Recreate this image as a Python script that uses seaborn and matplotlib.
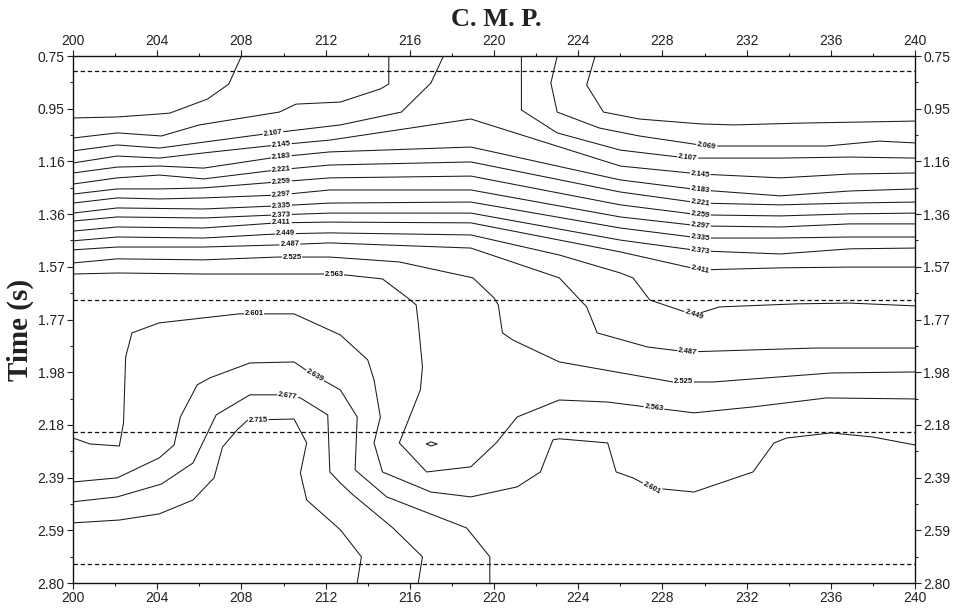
import numpy as np
import pandas as pd
import seaborn as sns
import matplotlib
from matplotlib import pyplot as plt

# do not use X11
matplotlib.use('Agg')

# velocity contours traced off the section: C.M.P. position and time (s)
V2031A_CMP = [200.0, 202.1, 204.0, 204.6, 206.4, 207.4, 208.0]
V2031A_T = [0.991, 0.987, 0.976, 0.972, 0.917, 0.859, 0.750]
V2031B_CMP = [224.8, 224.4, 225.2, 226.9, 229.8, 231.4, 234.5, 240.0]
V2031B_T = [0.750, 0.863, 0.968, 0.995, 1.014, 1.018, 1.011, 1.003]

V2069A_CMP = [200.0, 202.1, 204.2, 206.0, 209.8, 210.6, 212.7, 214.6, 215.0, 215.0]
V2069A_T = [1.069, 1.049, 1.061, 1.018, 0.968, 0.937, 0.929, 0.878, 0.859, 0.750]
V2069B_CMP = [223.0, 222.7, 223.0, 225.0, 226.9, 228.8, 230.1, 233.6, 235.8, 238.3, 240.0]
V2069B_T = [0.750, 0.855, 0.968, 1.030, 1.061, 1.084, 1.100, 1.100, 1.100, 1.081, 1.088]

V2107A_CMP = [200.0, 202.1, 204.1, 209.5, 212.7, 215.6, 217.0, 217.6]
V2107A_T = [1.119, 1.096, 1.108, 1.049, 1.018, 0.968, 0.855, 0.750]
V2107B_CMP = [221.3, 221.3, 223.0, 226.0, 229.2, 233.6, 236.9, 240.0]
V2107B_T = [0.750, 0.960, 1.049, 1.116, 1.147, 1.147, 1.143, 1.147]

ROW_CMP = [200.0, 202.1, 204.1, 206.2, 209.7, 212.2, 218.9, 226.0, 229.8, 233.6, 236.9, 240.0]
V2145_T = [1.166, 1.139, 1.147, 1.127, 1.096, 1.077, 0.995, 1.178, 1.209, 1.224, 1.209, 1.205]
V2183_T = [1.205, 1.182, 1.178, 1.186, 1.143, 1.123, 1.104, 1.232, 1.271, 1.294, 1.275, 1.267]
V2221_T = [1.248, 1.224, 1.213, 1.228, 1.193, 1.174, 1.162, 1.279, 1.322, 1.329, 1.322, 1.318]
V2259_T = [1.287, 1.267, 1.267, 1.263, 1.240, 1.224, 1.217, 1.329, 1.368, 1.372, 1.364, 1.361]
V2297_T = [1.322, 1.302, 1.306, 1.302, 1.291, 1.271, 1.271, 1.376, 1.411, 1.415, 1.403, 1.403]
V2335_T = [1.361, 1.341, 1.343, 1.345, 1.333, 1.322, 1.318, 1.419, 1.458, 1.458, 1.454, 1.454]
V2373_T = [1.392, 1.376, 1.378, 1.380, 1.368, 1.361, 1.361, 1.466, 1.508, 1.520, 1.500, 1.497]
V2411_T = [1.431, 1.415, 1.417, 1.419, 1.399, 1.396, 1.399, 1.512, 1.582, 1.574, 1.571, 1.571]

V2449_CMP = [200.0, 202.1, 206.2, 209.7, 212.2, 218.9, 223.1, 226.0, 226.6, 227.4, 229.5,
             230.7, 234.4, 236.9, 240.0]
V2449_T = [1.469, 1.454, 1.458, 1.442, 1.438, 1.446, 1.524, 1.594, 1.613, 1.699, 1.757,
           1.726, 1.714, 1.711, 1.722]

V2487_CMP = [200.0, 202.1, 206.2, 209.7, 212.2, 218.9, 223.1, 224.4, 224.9, 227.3, 229.2,
             235.2, 240.0]
V2487_T = [1.504, 1.493, 1.493, 1.485, 1.477, 1.497, 1.613, 1.726, 1.827, 1.882, 1.901,
           1.886, 1.886]

V2525_CMP = [200.0, 202.1, 206.2, 209.7, 212.2, 215.5, 219.0, 220.0, 220.2, 220.4, 220.9,
             223.1, 228.5, 230.4, 236.0, 240.0]
V2525_T = [1.555, 1.539, 1.543, 1.532, 1.532, 1.551, 1.613, 1.691, 1.718, 1.827, 1.855,
           1.940, 2.018, 2.018, 1.983, 1.979]

V2563_CMP = [200.0, 202.1, 206.2, 212.5, 214.7, 215.9, 216.3, 216.4, 216.6, 216.5, 215.5,
             216.8, 218.9, 220.1, 221.1, 223.1, 225.4, 227.6, 229.5, 232.3, 235.8, 240.0]
V2563_T = [1.598, 1.594, 1.598, 1.598, 1.617, 1.691, 1.718, 1.788, 1.959, 2.049, 2.255,
           2.368, 2.348, 2.255, 2.154, 2.088, 2.096, 2.119, 2.138, 2.115, 2.080, 2.084]

V2601_CMP = [200.0, 200.8, 202.2, 202.4, 202.5, 202.8, 204.1, 207.9, 210.5, 212.7, 214.0,
             214.3, 214.6, 214.3, 214.7, 217.0, 218.9, 221.1, 222.2, 222.8, 223.1, 225.4,
             225.8, 226.6, 227.5, 229.5, 232.3, 233.3, 233.9, 236.0, 238.0, 240.0]
V2601_T = [2.236, 2.259, 2.267, 2.177, 1.921, 1.827, 1.788, 1.753, 1.753, 1.835, 1.932,
           2.010, 2.154, 2.255, 2.368, 2.446, 2.465, 2.426, 2.368, 2.243, 2.239, 2.255,
           2.368, 2.391, 2.430, 2.446, 2.368, 2.255, 2.236, 2.216, 2.232, 2.263]

V2639_CMP = [200.0, 202.1, 204.1, 204.8, 205.1, 205.9, 206.5, 208.4, 210.5, 211.2, 212.7,
             213.5, 213.4, 214.9, 218.7, 219.8, 219.8]
V2639_T = [2.407, 2.391, 2.313, 2.263, 2.154, 2.029, 2.002, 1.944, 1.940, 1.979, 2.049,
           2.154, 2.360, 2.465, 2.586, 2.698, 2.800]

V2677_CMP = [200.0, 202.1, 204.2, 205.7, 206.8, 208.4, 209.8, 210.8, 212.1, 212.2, 212.7,
             213.3, 215.2, 216.6, 216.4]
V2677_T = [2.484, 2.465, 2.415, 2.333, 2.146, 2.068, 2.068, 2.080, 2.146, 2.368, 2.411,
           2.457, 2.586, 2.698, 2.800]

V2715_CMP = [200.0, 202.2, 204.1, 205.7, 206.7, 207.1, 207.8, 208.3, 210.5, 211.1, 210.8,
             211.1, 212.7, 213.7, 213.5]
V2715_T = [2.566, 2.555, 2.531, 2.477, 2.391, 2.271, 2.204, 2.166, 2.162, 2.255, 2.372,
           2.477, 2.593, 2.698, 2.800]

# tiny closed contour near C.M.P. 217
LOOP_CMP = [216.8, 217.0, 217.3, 217.0, 216.8]
LOOP_T = [2.259, 2.251, 2.259, 2.267, 2.259]

# dashed horizons
HORIZONS = [0.808, 1.699, 2.212, 2.727]

X_TICKS = [200, 204, 208, 212, 216, 220, 224, 228, 232, 236, 240]
T_TICKS = [0.75, 0.955, 1.16, 1.365, 1.57, 1.775, 1.98, 2.185, 2.39, 2.595, 2.80]
T_TICK_LABELS = ['0.75', '0.95', '1.16', '1.36', '1.57', '1.77', '1.98', '2.18',
                 '2.39', '2.59', '2.80']

LINES = {
    '2031a': V2031A_CMP and (V2031A_CMP, V2031A_T),
    '2031b': (V2031B_CMP, V2031B_T),
    '2069a': (V2069A_CMP, V2069A_T),
    '2069b': (V2069B_CMP, V2069B_T),
    '2107a': (V2107A_CMP, V2107A_T),
    '2107b': (V2107B_CMP, V2107B_T),
    '2145': (ROW_CMP, V2145_T),
    '2183': (ROW_CMP, V2183_T),
    '2221': (ROW_CMP, V2221_T),
    '2259': (ROW_CMP, V2259_T),
    '2297': (ROW_CMP, V2297_T),
    '2335': (ROW_CMP, V2335_T),
    '2373': (ROW_CMP, V2373_T),
    '2411': (ROW_CMP, V2411_T),
    '2449': (V2449_CMP, V2449_T),
    '2487': (V2487_CMP, V2487_T),
    '2525': (V2525_CMP, V2525_T),
    '2563': (V2563_CMP, V2563_T),
    '2601': (V2601_CMP, V2601_T),
    '2639': (V2639_CMP, V2639_T),
    '2677': (V2677_CMP, V2677_T),
    '2715': (V2715_CMP, V2715_T),
    'loop': (LOOP_CMP, LOOP_T),
}

# where the contour labels sit (line key, label, C.M.P.)
LABELS = [
    ('2107a', '2.107', 209.5), ('2145', '2.145', 209.9), ('2183', '2.183', 209.9),
    ('2221', '2.221', 209.9), ('2259', '2.259', 209.9), ('2297', '2.297', 209.9),
    ('2335', '2.335', 209.9), ('2373', '2.373', 209.9), ('2411', '2.411', 209.9),
    ('2449', '2.449', 210.1), ('2487', '2.487', 210.3), ('2525', '2.525', 210.4),
    ('2563', '2.563', 212.4), ('2601', '2.601', 208.6), ('2639', '2.639', 211.5),
    ('2677', '2.677', 210.2), ('2715', '2.715', 208.8),
    ('2069b', '2.069', 230.1), ('2107b', '2.107', 229.2), ('2145', '2.145', 229.8),
    ('2183', '2.183', 229.8), ('2221', '2.221', 229.8), ('2259', '2.259', 229.8),
    ('2297', '2.297', 229.8), ('2335', '2.335', 229.8), ('2373', '2.373', 229.8),
    ('2411', '2.411', 229.8), ('2449', '2.449', 229.5), ('2487', '2.487', 229.2),
    ('2525', '2.525', 229.0), ('2563', '2.563', 227.6), ('2601', '2.601', 227.5),
]


def point_on_line(xs, ts, c):
    for i in range(len(xs) - 1):
        a, b = xs[i], xs[i + 1]
        if a != b and min(a, b) <= c <= max(a, b):
            f = (c - a) / (b - a)
            return ts[i] + f * (ts[i + 1] - ts[i]), i
    return ts[-1], len(xs) - 2


frames = []
for key, (xs, ts) in LINES.items():
    frames.append(pd.DataFrame({'cmp': xs, 'time': ts, 'line': key}))
df = pd.concat(frames, ignore_index=True)

sns.set_theme(style='ticks')
plt.rcParams['font.family'] = ['Liberation Sans', 'DejaVu Sans']

fig = plt.figure(figsize=(9.62, 6.11), dpi=100)
ax = fig.add_axes([0.0759, 0.0458, 0.8753, 0.8625])

sns.lineplot(data=df, x='cmp', y='time', units='line', estimator=None, sort=False,
             color='#1a1a1a', linewidth=0.75, legend=False, ax=ax, zorder=2)

for h in HORIZONS:
    ax.axhline(h, color='#111111', linewidth=0.9, linestyle=(0, (3.5, 2.2)), zorder=2)

ax.set_xlim(200, 240)
ax.set_ylim(2.80, 0.75)
ax.set_xticks(X_TICKS)
ax.set_xticks([x + 2 for x in X_TICKS[:-1]], minor=True)
ax.set_yticks(T_TICKS)
ax.set_yticklabels(T_TICK_LABELS)
ax.set_yticks([(a + b) / 2 for a, b in zip(T_TICKS[:-1], T_TICKS[1:])], minor=True)
ax.set_xlabel('')
ax.set_ylabel('')
ax.tick_params(which='both', direction='out', top=True, right=True,
               labeltop=True, labelright=True, colors='#222222', labelsize=10,
               width=0.8, pad=2)
ax.tick_params(which='major', length=4)
ax.tick_params(which='minor', length=2.5)
for sp in ax.spines.values():
    sp.set_visible(True)
    sp.set_color('#111111')
    sp.set_linewidth(1.0)

for key, text, c in LABELS:
    xs, ts = LINES[key]
    t, i = point_on_line(xs, ts, c)
    p0 = ax.transData.transform((xs[i], ts[i]))
    p1 = ax.transData.transform((xs[i + 1], ts[i + 1]))
    ang = np.degrees(np.arctan2(p1[1] - p0[1], p1[0] - p0[0]))
    if ang > 90:
        ang -= 180
    elif ang < -90:
        ang += 180
    ax.text(c, t, text, fontsize=5.5, fontweight='bold', color='#111111',
            ha='center', va='center', rotation=ang, rotation_mode='anchor',
            bbox=dict(facecolor='white', edgecolor='none', pad=0.6), zorder=3)

fig.text(496 / 962, 1 - 19 / 611, 'C. M. P.', ha='center', va='center',
         fontsize=19, fontweight='bold', family='Liberation Serif', color='#222222')
fig.text(20 / 962, 1 - 330 / 611, 'Time (s)', ha='center', va='center', rotation=90,
         fontsize=21, fontweight='bold', family='Liberation Serif', color='#222222')

fig.savefig('out.png', dpi=100)
